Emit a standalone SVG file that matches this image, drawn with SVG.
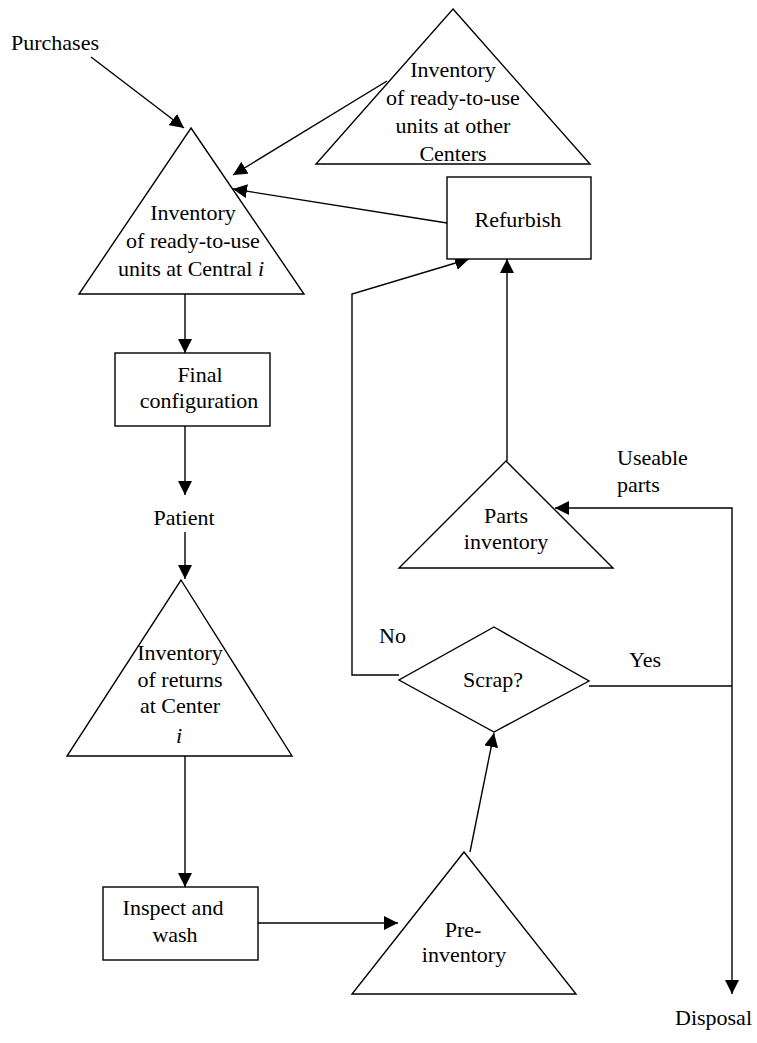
<svg xmlns="http://www.w3.org/2000/svg" width="757" height="1043" viewBox="0 0 757 1043">
<style>
.s{fill:#fff;stroke:#000;stroke-width:1.4}
.l{fill:none;stroke:#000;stroke-width:1.4}
text{font-family:"Liberation Serif","Times New Roman",serif;font-size:22px;fill:#000}
.c{text-anchor:middle}
</style>
<defs>
<marker id="a" viewBox="0 0 14 14" refX="14" refY="7" markerWidth="14" markerHeight="14" markerUnits="userSpaceOnUse" orient="auto">
<path d="M0,0 L14,7 L0,14 Z" fill="#000"/>
</marker>
</defs>
<rect width="757" height="1043" fill="#fff"/>
<g id="connectors">
<line class="l" x1="91" y1="57" x2="184" y2="128" marker-end="url(#a)"/>
<line class="l" x1="387" y1="81" x2="233" y2="175" marker-end="url(#a)"/>
<line class="l" x1="447" y1="223" x2="233" y2="189" marker-end="url(#a)"/>
<line class="l" x1="185" y1="294" x2="185" y2="353" marker-end="url(#a)"/>
<line class="l" x1="185" y1="426" x2="185" y2="495" marker-end="url(#a)"/>
<line class="l" x1="185" y1="532" x2="185" y2="579" marker-end="url(#a)"/>
<line class="l" x1="185" y1="756" x2="185" y2="887" marker-end="url(#a)"/>
<line class="l" x1="257" y1="923" x2="398" y2="923" marker-end="url(#a)"/>
<line class="l" x1="470" y1="852" x2="494" y2="733" marker-end="url(#a)"/>
<polyline class="l" points="399,675 352,675 352,294 469,259" marker-end="url(#a)"/>
<line class="l" x1="507" y1="461" x2="507" y2="259" marker-end="url(#a)"/>
<line class="l" x1="589" y1="686" x2="732" y2="686"/>
<polyline class="l" points="732,686 732,508 555,508" marker-end="url(#a)"/>
<line class="l" x1="732" y1="686" x2="732" y2="994" marker-end="url(#a)"/>
</g>
<g id="purchases"><text x="11" y="50">Purchases</text></g>
<g id="inv-central">
<polygon class="s" points="191,128 304,294 79,294"/>
<text class="c" x="193" y="220">Inventory</text>
<text class="c" x="193" y="248">of ready-to-use</text>
<text class="c" x="191" y="276">units at Central <tspan font-style="italic">i</tspan></text>
</g>
<g id="inv-other">
<polygon class="s" points="453,9 590,164 316,164"/>
<text class="c" x="453" y="77">Inventory</text>
<text class="c" x="453" y="105">of ready-to-use</text>
<text class="c" x="453" y="133">units at other</text>
<text class="c" x="453" y="161">Centers</text>
</g>
<g id="refurbish">
<rect class="s" x="447" y="177" width="144" height="82"/>
<text class="c" x="518" y="227">Refurbish</text>
</g>
<g id="final-config">
<rect class="s" x="115" y="353" width="155" height="73"/>
<text class="c" x="200" y="382">Final</text>
<text class="c" x="199" y="408">configuration</text>
</g>
<g id="patient"><text class="c" x="184" y="525">Patient</text></g>
<g id="inv-returns">
<polygon class="s" points="181,580 292,756 67,756"/>
<text class="c" x="180" y="660">Inventory</text>
<text class="c" x="180" y="687">of returns</text>
<text class="c" x="180" y="713">at Center</text>
<text class="c" x="179" y="743" font-style="italic">i</text>
</g>
<g id="inspect">
<rect class="s" x="103" y="887" width="155" height="73"/>
<text class="c" x="173" y="915">Inspect and</text>
<text class="c" x="175" y="942">wash</text>
</g>
<g id="pre-inventory">
<polygon class="s" points="464,852 576,994 352,994"/>
<text class="c" x="463" y="937">Pre-</text>
<text class="c" x="464" y="962">inventory</text>
</g>
<g id="scrap">
<polygon class="s" points="494,627 589,681 494,732 399,680"/>
<text class="c" x="493" y="687">Scrap?</text>
<text x="379" y="643">No</text>
<text x="629" y="667">Yes</text>
</g>
<g id="parts-inventory">
<polygon class="s" points="506,461 613,568 399,568"/>
<text class="c" x="506" y="523">Parts</text>
<text class="c" x="506" y="549">inventory</text>
</g>
<g id="useable"><text x="617" y="465">Useable</text><text x="617" y="492">parts</text></g>
<g id="disposal"><text x="675" y="1025">Disposal</text></g>
</svg>
